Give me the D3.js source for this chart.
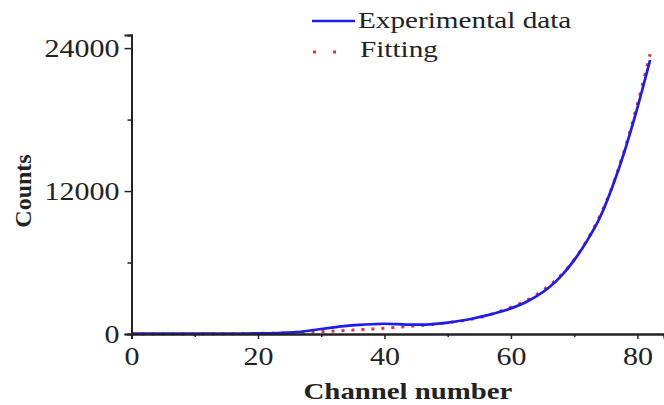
<!DOCTYPE html>
<html>
<head>
<meta charset="utf-8">
<script src="https://cdn.jsdelivr.net/npm/d3@7"></script>
<style>
  body { margin: 0; background: #fff; }
  svg text { font-family: "Liberation Serif", "Times New Roman", serif; fill: #222; }
</style>
</head>
<body>
<div id="chart"></div>
<script>
// channel number vs counts
var expChannels = [0, 2, 4, 6, 8, 10, 12, 14, 16, 18, 20, 22, 24, 26, 28, 30, 32, 34, 36, 38, 40,
                   42, 44, 46, 48, 50, 52, 54, 56, 58, 60, 62, 64, 66, 68, 70, 72, 74, 76, 78, 80, 82];
var expCounts = [30, 30, 30, 30, 30, 30, 30, 30, 40, 40, 50, 60, 90, 150, 270, 420, 560, 680, 760, 820, 860,
                 830, 780, 780, 850, 960, 1110, 1300, 1540, 1820, 2150, 2580, 3150, 3900, 4900, 6200, 7800, 9700, 12300, 15400, 19000, 23000];

var fitChannels = [0, 5, 10, 15, 20, 25, 30, 35, 40, 45, 50, 55, 60, 62, 64, 66, 68, 70, 72, 74, 76, 78, 80, 82];
var fitCounts = [0, 0, 10, 20, 50, 110, 200, 330, 480, 680, 950, 1380, 2250, 2700, 3300, 4050, 5000, 6250, 7850, 9850, 12350, 15550, 19300, 23500];

var xMajor = [0, 20, 40, 60, 80];
var xMinor = [10, 30, 50, 70];
var yMajor = [0, 12000, 24000];
var yMinor = [6000, 18000];

var W = 664, H = 405;
var svg = d3.select("#chart").append("svg")
    .attr("width", W)
    .attr("height", H);

var x = d3.scaleLinear().domain([0, 84.2]).range([131.5, 664]);
var y = d3.scaleLinear().domain([0, 25100]).range([334, 35]);

// the original picture is stretched sideways, so widen the glyphs a bit
function widen(sel, k){
    sel.each(function(){
	var w = this.getComputedTextLength();
	d3.select(this).attr("textLength", w * k).attr("lengthAdjust", "spacingAndGlyphs");
    });
}

// curves
var line = d3.line()
    .x(function(d){ return x(d[0]); })
    .y(function(d){ return y(d[1]); })
    .curve(d3.curveMonotoneX);

svg.append("path")
    .datum(d3.zip(fitChannels, fitCounts))
    .attr("d", line)
    .attr("fill", "none")
    .attr("stroke", "#e8333a")
    .attr("stroke-width", 3)
    .attr("stroke-dasharray", "3,7");

svg.append("path")
    .datum(d3.zip(expChannels, expCounts))
    .attr("d", line)
    .attr("fill", "none")
    .attr("stroke", "#1c1cf0")
    .attr("stroke-width", 2.7);

// axes
svg.append("g")
    .attr("transform", "translate(0," + y(0) + ")")
    .call(d3.axisBottom(x).tickValues(xMajor).tickSize(5).tickPadding(8).tickFormat(d3.format("d")));
svg.append("g")
    .attr("transform", "translate(0," + y(0) + ")")
    .call(d3.axisBottom(x).tickValues(xMinor).tickSize(3).tickFormat(""));

svg.append("g")
    .attr("transform", "translate(" + x(0) + ",0)")
    .call(d3.axisLeft(y).tickValues(yMajor).tickSize(7).tickPadding(5).tickFormat(d3.format("d")));
svg.append("g")
    .attr("transform", "translate(" + x(0) + ",0)")
    .call(d3.axisLeft(y).tickValues(yMinor).tickSize(4).tickFormat(""));

svg.selectAll(".domain").attr("stroke", "#222").attr("stroke-width", 2);
svg.selectAll(".tick line").attr("stroke", "#222").attr("stroke-width", 1.5);
svg.selectAll(".tick text")
    .attr("font-size", 25)
    .attr("font-family", "Liberation Serif")
    .attr("fill", "#333")
    .call(widen, 1.2);

// axis titles
svg.append("text")
    .attr("x", 408).attr("y", 399)
    .attr("text-anchor", "middle")
    .attr("font-size", 24).attr("font-weight", "bold")
    .text("Channel number")
    .call(widen, 1.2);

svg.append("text")
    .attr("transform", "translate(31,191) rotate(-90)")
    .attr("text-anchor", "middle")
    .attr("font-size", 24).attr("font-weight", "bold")
    .text("Counts");

// legend
var legend = svg.append("g");
legend.append("line")
    .attr("x1", 312).attr("x2", 355).attr("y1", 21).attr("y2", 21)
    .attr("stroke", "#1c1cf0").attr("stroke-width", 2.7);
legend.append("text")
    .attr("x", 358).attr("y", 28)
    .attr("font-size", 23)
    .text("Experimental data")
    .call(widen, 1.27);
legend.append("line")
    .attr("x1", 313).attr("x2", 340).attr("y1", 52).attr("y2", 52)
    .attr("stroke", "#e8333a").attr("stroke-width", 3)
    .attr("stroke-dasharray", "3,17");
legend.append("text")
    .attr("x", 360).attr("y", 57)
    .attr("font-size", 23)
    .text("Fitting")
    .call(widen, 1.27);
</script>
</body>
</html>
